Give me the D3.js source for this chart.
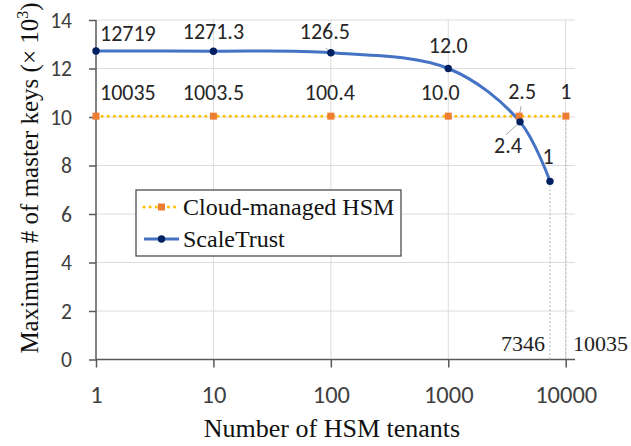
<!DOCTYPE html>
<html>
<head>
<meta charset="utf-8">
<script src="https://cdn.jsdelivr.net/npm/d3@7"></script>
<style>
  body { margin: 0; background: #fff; }
  svg { display: block; }
  .tick text { fill: #404040; }
  .serif { font-family: 'Liberation Serif', 'Times New Roman', serif; }
  .sans { font-family: Carlito, Lato, sans-serif; }
</style>
</head>
<body>
<div id="chart"></div>
<script>
// x: number of HSM tenants, y: max master keys (x 10^3)
const cloudTenants = [1, 10, 100, 1000, 4014, 10035];
const cloudKeys = [10.035, 10.035, 10.035, 10.035, 10.035, 10.035];
const cloudLabels = ['10035', '1003.5', '100.4', '10.0', '2.5', '1'];

const trustTenants = [1, 10, 100, 1000, 4083, 7346];
const trustKeys = [12.719, 12.713, 12.65, 12.0, 9.8, 7.346];
const trustLabels = ['12719', '1271.3', '126.5', '12.0', '2.4', '1'];

const xTicks = [1, 10, 100, 1000, 10000];
const yTicks = [0, 2, 4, 6, 8, 10, 12, 14];
const dropTenants = [7346, 10035];
const seriesNames = ['Cloud-managed HSM', 'ScaleTrust'];

// label placement (offsets from the point, pixels)
const cloudLabelPos = [[4, -16, 'start'], [0, -16, 'middle'], [-1, -16, 'middle'], [-8, -16, 'middle'], [3, -17, 'middle'], [0, -17, 'middle']];
const trustLabelPos = [[4, -10, 'start'], [0, -12, 'middle'], [-6, -14, 'middle'], [0, -16, 'middle'], [-12, 31, 'middle'], [-2, -17, 'middle']];

const width = 631, height = 446;
const plot = { left: 96, right: 575, top: 20, bottom: 359.5 };

const svg = d3.select('#chart').append('svg')
  .attr('width', width).attr('height', height);

const x = d3.scaleLog().domain([1, 10000]).range([plot.left, 565.7]);
const y = d3.scaleLinear().domain([0, 14]).range([plot.bottom, plot.top]);

// gridlines
svg.append('g').selectAll('line').data(yTicks.filter(d => d > 0)).enter().append('line')
  .attr('x1', plot.left).attr('x2', plot.right)
  .attr('y1', d => y(d)).attr('y2', d => y(d))
  .attr('stroke', '#dcdcdc').attr('stroke-width', 1);
svg.append('g').selectAll('line').data(xTicks.filter(d => d > 1)).enter().append('line')
  .attr('x1', d => x(d)).attr('x2', d => x(d))
  .attr('y1', plot.top).attr('y2', plot.bottom)
  .attr('stroke', '#dcdcdc').attr('stroke-width', 1);

// axes
const yAxis = svg.append('g')
  .attr('transform', `translate(${plot.left},0)`)
  .call(d3.axisLeft(y).tickValues(yTicks).tickSize(7).tickPadding(17));
yAxis.select('.domain').remove();
yAxis.append('line').attr('x1', 0).attr('x2', 0).attr('y1', plot.top).attr('y2', plot.bottom)
  .attr('stroke', '#595959').attr('stroke-width', 1.5);
yAxis.selectAll('.tick line').attr('stroke', '#595959').attr('stroke-width', 1.5);
yAxis.attr('font-family', null).attr('font-size', null);
yAxis.selectAll('.tick text').attr('class', 'sans').style('font-size', '21.5px').attr('dy', '0.34em');

const xAxis = svg.append('g')
  .attr('transform', `translate(0,${plot.bottom})`)
  .call(d3.axisBottom(x).tickValues(xTicks).tickFormat(d3.format('d')).tickSize(8).tickPadding(18));
xAxis.select('.domain').remove();
xAxis.append('line').attr('x1', plot.left).attr('x2', plot.right)
  .attr('stroke', '#595959').attr('stroke-width', 1.5);
xAxis.selectAll('.tick line').attr('stroke', '#595959').attr('stroke-width', 1.5);
xAxis.attr('font-family', null).attr('font-size', null);
xAxis.selectAll('.tick text').attr('class', 'sans').style('font-size', '24.5px');

// drop lines
svg.append('g').selectAll('line').data(dropTenants).enter().append('line')
  .attr('x1', d => x(d)).attr('x2', d => x(d))
  .attr('y1', (d, i) => y(i === 0 ? trustKeys[5] : cloudKeys[5]))
  .attr('y2', plot.bottom)
  .attr('stroke', '#bfbfbf').attr('stroke-width', 1.2).attr('stroke-dasharray', '2,2');
svg.append('text').attr('class', 'serif').attr('x', x(dropTenants[0]) - 5).attr('y', 351)
  .attr('text-anchor', 'end').style('font-size', '22px').attr('fill', '#222')
  .text(String(dropTenants[0]));
svg.append('text').attr('class', 'serif').attr('x', x(dropTenants[1]) + 7).attr('y', 351)
  .style('font-size', '22px').attr('fill', '#222')
  .text(String(dropTenants[1]));

// series
const cloud = cloudTenants.map((t, i) => ({ t, v: cloudKeys[i], label: cloudLabels[i], pos: cloudLabelPos[i] }));
const trust = trustTenants.map((t, i) => ({ t, v: trustKeys[i], label: trustLabels[i], pos: trustLabelPos[i] }));

svg.append('path').datum(cloud)
  .attr('fill', 'none').attr('stroke', '#ffc000').attr('stroke-width', 3)
  .attr('stroke-linecap', 'round').attr('stroke-dasharray', '0.1,6')
  .attr('d', d3.line().x(d => x(d.t)).y(d => y(d.v)));

svg.append('path').datum(trust)
  .attr('fill', 'none').attr('stroke', '#4472c4').attr('stroke-width', 3)
  .attr('d', d3.line().x(d => x(d.t)).y(d => y(d.v)).curve(d3.curveCatmullRom.alpha(0.5)));

// leader lines for a few labels
const leaders = [[trust[2], -5, -5], [cloud[4], 2, -10], [trust[4], -14, 13]];
svg.append('g').selectAll('line').data(leaders).enter().append('line')
  .attr('x1', d => x(d[0].t)).attr('y1', d => y(d[0].v))
  .attr('x2', d => x(d[0].t) + d[1]).attr('y2', d => y(d[0].v) + d[2])
  .attr('stroke', '#a6a6a6').attr('stroke-width', 1);

svg.append('g').selectAll('rect').data(cloud).enter().append('rect')
  .attr('x', d => x(d.t) - 3.5).attr('y', d => y(d.v) - 3.5)
  .attr('width', 7).attr('height', 7).attr('fill', '#ed7d31');

svg.append('g').selectAll('circle').data(trust).enter().append('circle')
  .attr('cx', d => x(d.t)).attr('cy', d => y(d.v)).attr('r', 3.7).attr('fill', '#002060');

// data labels
const labelLayer = svg.append('g').attr('class', 'sans')
  .style('font-size', '22px').attr('fill', '#262626');
labelLayer.selectAll('text.c').data(cloud).enter().append('text')
  .attr('x', d => x(d.t) + d.pos[0]).attr('y', d => y(d.v) + d.pos[1])
  .attr('text-anchor', d => d.pos[2]).text(d => d.label);
labelLayer.selectAll('text.s').data(trust).enter().append('text')
  .attr('x', d => x(d.t) + d.pos[0]).attr('y', d => y(d.v) + d.pos[1])
  .attr('text-anchor', d => d.pos[2]).text(d => d.label);

// legend
const legend = svg.append('g').attr('transform', 'translate(136,190)');
legend.append('rect').attr('width', 265).attr('height', 66)
  .attr('fill', '#fff').attr('stroke', '#404040').attr('stroke-width', 1.2);
const entry = legend.selectAll('g').data(seriesNames).enter().append('g')
  .attr('transform', (d, i) => `translate(0,${17 + i * 32})`);
entry.append('line').attr('x1', 8).attr('x2', 43)
  .attr('stroke', (d, i) => i === 0 ? '#ffc000' : '#4472c4')
  .attr('stroke-width', 3)
  .attr('stroke-linecap', (d, i) => i === 0 ? 'round' : 'butt')
  .attr('stroke-dasharray', (d, i) => i === 0 ? '0.1,6' : null);
entry.filter((d, i) => i === 0).append('rect')
  .attr('x', 22).attr('y', -3.5).attr('width', 7).attr('height', 7).attr('fill', '#ed7d31');
entry.filter((d, i) => i === 1).append('circle')
  .attr('cx', 25.5).attr('r', 3.7).attr('fill', '#002060');
entry.append('text').attr('class', 'serif').attr('x', 47).attr('y', 8)
  .style('font-size', '24px').attr('fill', '#111')
  .text(d => d);

// axis titles
svg.append('text').attr('class', 'serif').attr('x', 332).attr('y', 437).attr('text-anchor', 'middle')
  .style('font-size', '26px').attr('fill', '#111')
  .text('Number of HSM tenants');

const yTitle = svg.append('text').attr('class', 'serif')
  .attr('transform', 'translate(38,178) rotate(-90)')
  .attr('text-anchor', 'middle')
  .style('font-size', '25px').attr('fill', '#111');
yTitle.append('tspan').text('Maximum # of master keys (\u00d7 10');
yTitle.append('tspan').style('font-size', '16px').attr('dy', -10).text('3');
yTitle.append('tspan').attr('dy', 10).text(')');
</script>
</body>
</html>
